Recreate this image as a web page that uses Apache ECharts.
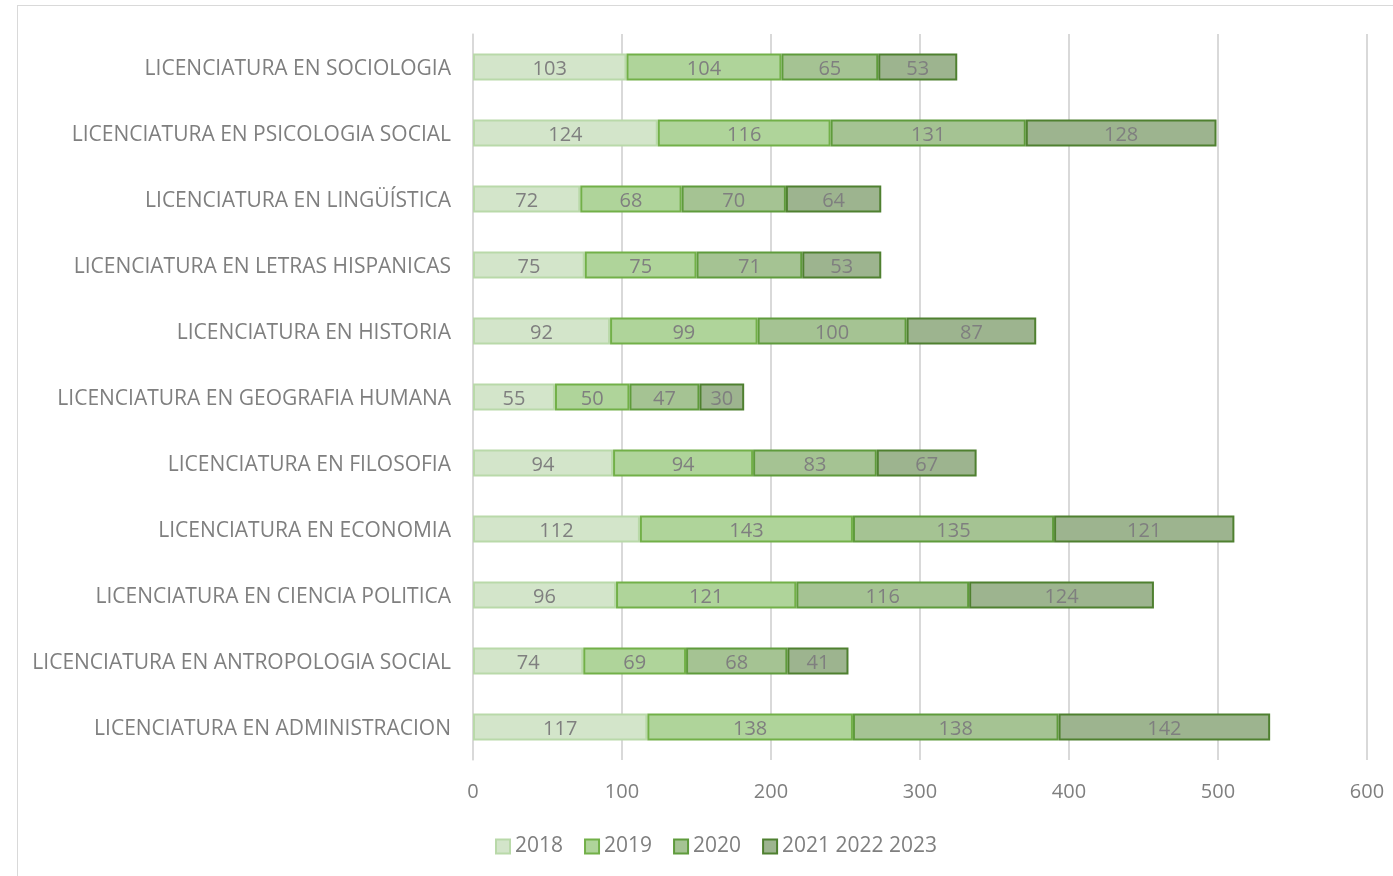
<!DOCTYPE html>
<html><head><meta charset="utf-8">
<script src="https://cdn.jsdelivr.net/npm/echarts@6/dist/echarts.min.js"></script>
<style>html,body{margin:0;padding:0;background:#fff;}#c{width:1393px;height:876px;}
#frame{position:absolute;left:17px;top:5px;width:1400px;height:900px;border:1.5px solid #d9d9d9;box-sizing:border-box;pointer-events:none;}</style>
</head><body><div id="c"></div><div id="frame"></div>
<script>
const categories = ["LICENCIATURA EN ADMINISTRACION","LICENCIATURA EN ANTROPOLOGIA SOCIAL","LICENCIATURA EN CIENCIA POLITICA","LICENCIATURA EN ECONOMIA","LICENCIATURA EN FILOSOFIA","LICENCIATURA EN GEOGRAFIA HUMANA","LICENCIATURA EN HISTORIA","LICENCIATURA EN LETRAS HISPANICAS","LICENCIATURA EN LINGÜÍSTICA","LICENCIATURA EN PSICOLOGIA SOCIAL","LICENCIATURA EN SOCIOLOGIA"];
const seriesNames = ["2018","2019","2020","2021 2022 2023"];
const v2018 = [117,74,96,112,94,55,92,75,72,124,103];
const v2019 = [138,69,121,143,94,50,99,75,68,116,104];
const v2020 = [138,68,116,135,83,47,100,71,70,131,65];
const v2021 = [142,41,124,121,67,30,87,53,64,128,53];
const values = [v2018,v2019,v2020,v2021];
const fills = ["#d3e5ca","#afd49a","#a5c393","#9db48f"];
const borders = ["#b9d9a9","#72b048","#5f9b3c","#4f8030"];
const font = "'Open Sans', 'Noto Sans', sans-serif";
const chart = echarts.init(document.getElementById('c'));
chart.setOption({
  animation:false,
  textStyle:{fontFamily:font},
  grid:{left:473,right:26,top:34,bottom:116,containLabel:false},
  legend:{bottom:14,left:490,itemWidth:14,itemHeight:14,itemGap:21,
    textStyle:{color:'#7f7f7f',fontSize:21,fontFamily:font},
    data:seriesNames.map((n,i)=>({name:n,icon:'rect',itemStyle:{color:fills[i],borderColor:borders[i],borderWidth:2}}))},
  xAxis:{type:'value',min:0,max:600,interval:100,
    axisLine:{show:false},axisTick:{show:false},
    splitLine:{lineStyle:{color:'#d9d9d9',width:2}},
    axisLabel:{color:'#7f7f7f',fontSize:20,margin:22,fontFamily:font}},
  yAxis:{type:'category',data:categories,
    axisLine:{show:true,lineStyle:{color:'#d9d9d9',width:1.5}},axisTick:{show:false},
    axisLabel:{color:'#7f7f7f',fontSize:21,margin:22,fontFamily:font,
      formatter:v=>'{a|'+v+'}',
      rich:{a:{color:'#7f7f7f',fontSize:21,fontFamily:font,padding:[4,0,0,0]}}}},
  series:values.map((arr,i)=>({
    name:seriesNames[i],type:'bar',stack:'t',data:arr,barWidth:27,
    itemStyle:{color:fills[i],borderColor:borders[i],borderWidth:2},
    label:{show:true,position:'inside',color:'#7f7f7f',fontSize:20,fontFamily:font,offset:[0,2]}
  }))
});
</script></body></html>
